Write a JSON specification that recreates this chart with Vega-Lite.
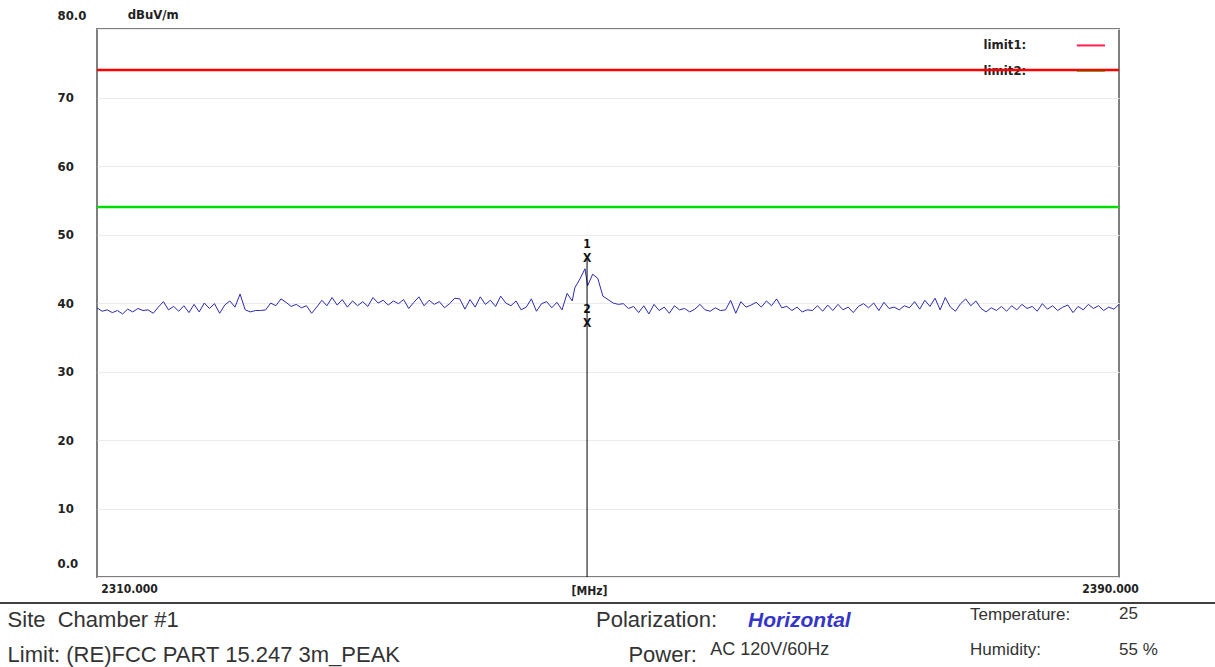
{
  "$schema": "https://vega.github.io/schema/vega-lite/v6.json",
  "width": 1022,
  "height": 548,
  "autosize": {"type": "none"},
  "padding": {"left": 97, "top": 29, "right": 96, "bottom": 90},
  "background": "white",
  "config": {"view": {"stroke": "#7f7f7f", "strokeWidth": 2}},
  "data": {"values": [{}]},
  "datasets": {
    "limits": [{"limit": "limit1", "level": 74}, {"limit": "limit2", "level": 54}],
    "markers": [{"marker": "1", "freq": 2348.36, "level": 46.6}, {"marker": "2", "freq": 2348.36, "level": 37.1}],
    "trace": [
      {"freq": 2310.0, "level": 39.3}, {"freq": 2310.4, "level": 38.8}, {"freq": 2310.8, "level": 39.0}, {"freq": 2311.2, "level": 38.6},
      {"freq": 2311.6, "level": 38.9}, {"freq": 2312.0, "level": 38.4}, {"freq": 2312.4, "level": 39.1}, {"freq": 2312.8, "level": 38.7},
      {"freq": 2313.2, "level": 39.2}, {"freq": 2313.6, "level": 38.9}, {"freq": 2314.0, "level": 39.0}, {"freq": 2314.4, "level": 38.5},
      {"freq": 2314.8, "level": 39.4}, {"freq": 2315.2, "level": 40.2}, {"freq": 2315.6, "level": 39.0}, {"freq": 2316.0, "level": 39.5},
      {"freq": 2316.4, "level": 38.8}, {"freq": 2316.8, "level": 39.6}, {"freq": 2317.2, "level": 38.6}, {"freq": 2317.6, "level": 39.8},
      {"freq": 2318.0, "level": 38.7}, {"freq": 2318.4, "level": 40.0}, {"freq": 2318.8, "level": 39.2}, {"freq": 2319.2, "level": 39.9},
      {"freq": 2319.6, "level": 38.5}, {"freq": 2320.0, "level": 39.7}, {"freq": 2320.4, "level": 40.3}, {"freq": 2320.8, "level": 39.4},
      {"freq": 2321.2, "level": 41.3}, {"freq": 2321.6, "level": 39.0}, {"freq": 2322.0, "level": 38.7}, {"freq": 2322.4, "level": 38.9},
      {"freq": 2322.8, "level": 38.9}, {"freq": 2323.2, "level": 39.0}, {"freq": 2323.6, "level": 40.0}, {"freq": 2324.0, "level": 39.6},
      {"freq": 2324.4, "level": 40.6}, {"freq": 2324.8, "level": 40.1}, {"freq": 2325.2, "level": 39.5}, {"freq": 2325.6, "level": 39.8},
      {"freq": 2326.0, "level": 39.3}, {"freq": 2326.4, "level": 39.6}, {"freq": 2326.8, "level": 38.5}, {"freq": 2327.2, "level": 39.4},
      {"freq": 2327.6, "level": 40.4}, {"freq": 2328.0, "level": 39.6}, {"freq": 2328.4, "level": 40.8}, {"freq": 2328.8, "level": 39.7},
      {"freq": 2329.2, "level": 40.5}, {"freq": 2329.6, "level": 39.4}, {"freq": 2330.0, "level": 40.3}, {"freq": 2330.4, "level": 39.6},
      {"freq": 2330.8, "level": 40.2}, {"freq": 2331.2, "level": 39.5}, {"freq": 2331.6, "level": 40.8}, {"freq": 2332.0, "level": 40.0},
      {"freq": 2332.4, "level": 40.4}, {"freq": 2332.8, "level": 39.7}, {"freq": 2333.2, "level": 40.3}, {"freq": 2333.6, "level": 39.9},
      {"freq": 2334.0, "level": 40.5}, {"freq": 2334.4, "level": 39.2}, {"freq": 2334.8, "level": 40.1}, {"freq": 2335.2, "level": 40.9},
      {"freq": 2335.6, "level": 39.6}, {"freq": 2336.0, "level": 40.4}, {"freq": 2336.4, "level": 39.8}, {"freq": 2336.8, "level": 40.2},
      {"freq": 2337.2, "level": 39.3}, {"freq": 2337.6, "level": 39.9}, {"freq": 2338.0, "level": 40.7}, {"freq": 2338.4, "level": 40.6},
      {"freq": 2338.8, "level": 39.1}, {"freq": 2339.2, "level": 40.5}, {"freq": 2339.6, "level": 39.4}, {"freq": 2340.0, "level": 40.9},
      {"freq": 2340.4, "level": 39.8}, {"freq": 2340.8, "level": 40.4}, {"freq": 2341.2, "level": 39.5}, {"freq": 2341.6, "level": 41.0},
      {"freq": 2342.0, "level": 40.0}, {"freq": 2342.4, "level": 39.6}, {"freq": 2342.8, "level": 40.3}, {"freq": 2343.2, "level": 39.0},
      {"freq": 2343.6, "level": 39.4}, {"freq": 2344.0, "level": 40.6}, {"freq": 2344.4, "level": 38.8}, {"freq": 2344.8, "level": 39.9},
      {"freq": 2345.2, "level": 40.2}, {"freq": 2345.6, "level": 39.3}, {"freq": 2346.0, "level": 40.1}, {"freq": 2346.4, "level": 39.0},
      {"freq": 2346.8, "level": 41.4}, {"freq": 2347.2, "level": 40.3}, {"freq": 2347.4, "level": 42.2}, {"freq": 2347.8, "level": 43.5},
      {"freq": 2348.2, "level": 45.0}, {"freq": 2348.4, "level": 42.5}, {"freq": 2348.8, "level": 44.2}, {"freq": 2349.2, "level": 43.6},
      {"freq": 2349.6, "level": 41.0}, {"freq": 2350.0, "level": 40.5}, {"freq": 2350.4, "level": 40.0}, {"freq": 2350.8, "level": 39.8},
      {"freq": 2351.2, "level": 39.9}, {"freq": 2351.6, "level": 39.2}, {"freq": 2352.0, "level": 39.5}, {"freq": 2352.4, "level": 38.6},
      {"freq": 2352.8, "level": 39.6}, {"freq": 2353.2, "level": 38.4}, {"freq": 2353.6, "level": 39.8}, {"freq": 2354.0, "level": 38.9},
      {"freq": 2354.4, "level": 39.4}, {"freq": 2354.8, "level": 38.5}, {"freq": 2355.2, "level": 39.6}, {"freq": 2355.6, "level": 39.0},
      {"freq": 2356.0, "level": 39.2}, {"freq": 2356.4, "level": 38.7}, {"freq": 2356.8, "level": 39.1}, {"freq": 2357.2, "level": 39.8},
      {"freq": 2357.6, "level": 39.0}, {"freq": 2358.0, "level": 38.8}, {"freq": 2358.4, "level": 39.3}, {"freq": 2358.8, "level": 38.9},
      {"freq": 2359.2, "level": 39.0}, {"freq": 2359.6, "level": 40.4}, {"freq": 2360.0, "level": 38.5}, {"freq": 2360.4, "level": 40.2},
      {"freq": 2360.8, "level": 39.4}, {"freq": 2361.2, "level": 39.7}, {"freq": 2361.6, "level": 40.1}, {"freq": 2362.0, "level": 39.4},
      {"freq": 2362.4, "level": 40.3}, {"freq": 2362.8, "level": 39.6}, {"freq": 2363.2, "level": 40.6}, {"freq": 2363.6, "level": 39.3},
      {"freq": 2364.0, "level": 39.5}, {"freq": 2364.4, "level": 38.9}, {"freq": 2364.8, "level": 39.4}, {"freq": 2365.2, "level": 38.7},
      {"freq": 2365.6, "level": 39.0}, {"freq": 2366.0, "level": 38.9}, {"freq": 2366.4, "level": 39.6}, {"freq": 2366.8, "level": 38.8},
      {"freq": 2367.2, "level": 39.7}, {"freq": 2367.6, "level": 38.9}, {"freq": 2368.0, "level": 39.8}, {"freq": 2368.4, "level": 39.0},
      {"freq": 2368.8, "level": 39.4}, {"freq": 2369.2, "level": 38.6}, {"freq": 2369.6, "level": 39.5}, {"freq": 2370.0, "level": 39.9},
      {"freq": 2370.4, "level": 39.3}, {"freq": 2370.8, "level": 40.0}, {"freq": 2371.2, "level": 38.9}, {"freq": 2371.6, "level": 40.1},
      {"freq": 2372.0, "level": 39.2}, {"freq": 2372.4, "level": 39.4}, {"freq": 2372.8, "level": 39.0}, {"freq": 2373.2, "level": 39.6},
      {"freq": 2373.6, "level": 39.3}, {"freq": 2374.0, "level": 40.2}, {"freq": 2374.4, "level": 39.1}, {"freq": 2374.8, "level": 40.4},
      {"freq": 2375.2, "level": 39.5}, {"freq": 2375.6, "level": 40.7}, {"freq": 2376.0, "level": 39.0}, {"freq": 2376.4, "level": 40.8},
      {"freq": 2376.8, "level": 39.4}, {"freq": 2377.2, "level": 38.8}, {"freq": 2377.6, "level": 39.9}, {"freq": 2378.0, "level": 40.6},
      {"freq": 2378.4, "level": 39.6}, {"freq": 2378.8, "level": 40.3}, {"freq": 2379.2, "level": 39.2}, {"freq": 2379.6, "level": 38.7},
      {"freq": 2380.0, "level": 39.3}, {"freq": 2380.4, "level": 38.9}, {"freq": 2380.8, "level": 39.5}, {"freq": 2381.2, "level": 38.8},
      {"freq": 2381.6, "level": 39.6}, {"freq": 2382.0, "level": 39.0}, {"freq": 2382.4, "level": 39.8}, {"freq": 2382.8, "level": 39.2},
      {"freq": 2383.2, "level": 39.5}, {"freq": 2383.6, "level": 38.8}, {"freq": 2384.0, "level": 39.9}, {"freq": 2384.4, "level": 39.1},
      {"freq": 2384.8, "level": 39.6}, {"freq": 2385.2, "level": 38.9}, {"freq": 2385.6, "level": 39.4}, {"freq": 2386.0, "level": 39.7},
      {"freq": 2386.4, "level": 38.6}, {"freq": 2386.8, "level": 39.5}, {"freq": 2387.2, "level": 39.0}, {"freq": 2387.6, "level": 39.8},
      {"freq": 2388.0, "level": 39.2}, {"freq": 2388.4, "level": 39.6}, {"freq": 2388.8, "level": 38.9}, {"freq": 2389.2, "level": 39.4},
      {"freq": 2389.6, "level": 39.1}, {"freq": 2390.0, "level": 39.8}
    ]
  },
  "layer": [
    {
      "data": {"name": "trace"},
      "mark": {"type": "line", "color": "#2b2bb0", "strokeWidth": 1, "clip": true},
      "encoding": {
        "x": {
          "field": "freq", "type": "quantitative",
          "scale": {"domain": [2310, 2390], "nice": false, "zero": false},
          "axis": {
            "values": [2310, 2390], "format": ".3f", "ticks": false, "tickSize": 0, "domain": false, "grid": false,
            "labelFont": "DejaVu Sans Condensed", "labelFontWeight": "bold", "labelFontSize": 12, "labelColor": "#222",
            "labelPadding": 6, "labelAlign": "center",
            "labelOffset": {"condition": {"test": "datum.value == 2310", "value": 32}, "value": -9},
            "title": "[MHz]", "titleFont": "DejaVu Sans Condensed", "titleFontWeight": "bold", "titleFontSize": 12, "titleColor": "#222",
            "titleX": 492, "titleY": 13, "titleAlign": "center", "titleBaseline": "middle"
          }
        },
        "y": {
          "field": "level", "type": "quantitative",
          "scale": {"domain": [0, 80], "nice": false, "zero": false},
          "axis": {
            "values": [0, 10, 20, 30, 40, 50, 60, 70, 80],
            "labelExpr": "datum.value == 0 ? '0.0' : datum.value == 80 ? '80.0' : datum.label",
            "labelOffset": {"condition": {"test": "datum.value == 0 || datum.value == 80", "value": -14}, "value": 0},
            "ticks": false, "tickSize": 0, "domain": false, "grid": true, "gridColor": "#ebebeb", "gridWidth": 1,
            "labelFont": "DejaVu Sans Condensed", "labelFontWeight": "bold", "labelFontSize": 13, "labelColor": "#222",
            "labelAlign": "left", "labelPadding": 40, "title": null
          }
        }
      }
    },
    {
      "mark": {"type": "text", "text": "dBuV/m", "align": "left", "baseline": "middle", "font": "DejaVu Sans Condensed", "fontWeight": "bold", "fontSize": 13, "color": "#222"},
      "encoding": {"x": {"datum": 2312.4}, "y": {"datum": 82}}
    },
    {
      "mark": {"type": "text", "text": "limit1:", "align": "left", "baseline": "middle", "font": "DejaVu Sans Condensed", "fontWeight": "bold", "fontSize": 13, "color": "#222"},
      "encoding": {"x": {"datum": 2379.4}, "y": {"datum": 77.6}}
    },
    {
      "mark": {"type": "text", "text": "limit2:", "align": "left", "baseline": "middle", "font": "DejaVu Sans Condensed", "fontWeight": "bold", "fontSize": 13, "color": "#222"},
      "encoding": {"x": {"datum": 2379.4}, "y": {"datum": 73.9}}
    },
    {
      "mark": {"type": "rule", "color": "#ff2050", "strokeWidth": 2},
      "encoding": {"x": {"datum": 2386.7}, "x2": {"datum": 2388.9}, "y": {"datum": 77.6}}
    },
    {
      "mark": {"type": "rule", "color": "#00dd00", "strokeWidth": 2},
      "encoding": {"x": {"datum": 2386.7}, "x2": {"datum": 2388.9}, "y": {"datum": 73.9}}
    },
    {
      "data": {"name": "limits"},
      "mark": {"type": "rule", "strokeWidth": 2.5},
      "encoding": {
        "y": {"field": "level", "type": "quantitative"},
        "color": {"field": "limit", "type": "nominal", "scale": {"domain": ["limit1", "limit2"], "range": ["#ff0000", "#00dd00"]}, "legend": null}
      }
    },
    {
      "mark": {"type": "rule", "color": "#000000", "strokeWidth": 1},
      "encoding": {"x": {"datum": 2348.36}, "y": {"datum": 0}, "y2": {"datum": 46.6}}
    },
    {
      "data": {"name": "markers"},
      "mark": {"type": "text", "text": "X", "font": "DejaVu Sans Condensed", "fontWeight": "bold", "fontSize": 12, "color": "#111", "baseline": "middle"},
      "encoding": {"x": {"field": "freq", "type": "quantitative"}, "y": {"field": "level", "type": "quantitative"}}
    },
    {
      "data": {"name": "markers"},
      "mark": {"type": "text", "dy": -14, "font": "DejaVu Sans Condensed", "fontWeight": "bold", "fontSize": 12, "color": "#111", "baseline": "middle"},
      "encoding": {"x": {"field": "freq", "type": "quantitative"}, "y": {"field": "level", "type": "quantitative"}, "text": {"field": "marker"}}
    },
    {
      "mark": {"type": "rule", "color": "#000000", "strokeWidth": 1.5},
      "encoding": {"x": {"datum": 2302.4}, "x2": {"datum": 2397.6}, "y": {"datum": -3.8}}
    },
    {
      "mark": {"type": "text", "text": "Site\u00a0 Chamber #1", "align": "left", "baseline": "middle", "font": "Liberation Sans", "fontSize": 22, "color": "#333"},
      "encoding": {"x": {"datum": 2303.0}, "y": {"datum": -6.3}}
    },
    {
      "mark": {"type": "text", "text": "Limit: (RE)FCC PART 15.247 3m_PEAK", "align": "left", "baseline": "middle", "font": "Liberation Sans", "fontSize": 22, "color": "#333"},
      "encoding": {"x": {"datum": 2303.0}, "y": {"datum": -11.4}}
    },
    {
      "mark": {"type": "text", "text": "Polarization:", "align": "left", "baseline": "middle", "font": "Liberation Sans", "fontSize": 22, "color": "#333"},
      "encoding": {"x": {"datum": 2349.06}, "y": {"datum": -6.3}}
    },
    {
      "mark": {"type": "text", "text": "Horizontal", "align": "left", "baseline": "middle", "font": "Liberation Sans", "fontSize": 21, "fontWeight": "bold", "fontStyle": "italic", "color": "#3535c8"},
      "encoding": {"x": {"datum": 2360.96}, "y": {"datum": -6.4}}
    },
    {
      "mark": {"type": "text", "text": "Temperature:", "align": "left", "baseline": "middle", "font": "Liberation Sans", "fontSize": 17, "color": "#333"},
      "encoding": {"x": {"datum": 2378.34}, "y": {"datum": -5.6}}
    },
    {
      "mark": {"type": "text", "text": "25", "align": "left", "baseline": "middle", "font": "Liberation Sans", "fontSize": 17, "color": "#333"},
      "encoding": {"x": {"datum": 2390.0}, "y": {"datum": -5.4}}
    },
    {
      "mark": {"type": "text", "text": "Power:", "align": "left", "baseline": "middle", "font": "Liberation Sans", "fontSize": 22, "color": "#333"},
      "encoding": {"x": {"datum": 2351.6}, "y": {"datum": -11.4}}
    },
    {
      "mark": {"type": "text", "text": "AC 120V/60Hz", "align": "left", "baseline": "middle", "font": "Liberation Sans", "fontSize": 18, "color": "#333"},
      "encoding": {"x": {"datum": 2358.0}, "y": {"datum": -10.7}}
    },
    {
      "mark": {"type": "text", "text": "Humidity:", "align": "left", "baseline": "middle", "font": "Liberation Sans", "fontSize": 17, "color": "#333"},
      "encoding": {"x": {"datum": 2378.34}, "y": {"datum": -10.7}}
    },
    {
      "mark": {"type": "text", "text": "55 %", "align": "left", "baseline": "middle", "font": "Liberation Sans", "fontSize": 17, "color": "#333"},
      "encoding": {"x": {"datum": 2390.0}, "y": {"datum": -10.7}}
    }
  ]
}
